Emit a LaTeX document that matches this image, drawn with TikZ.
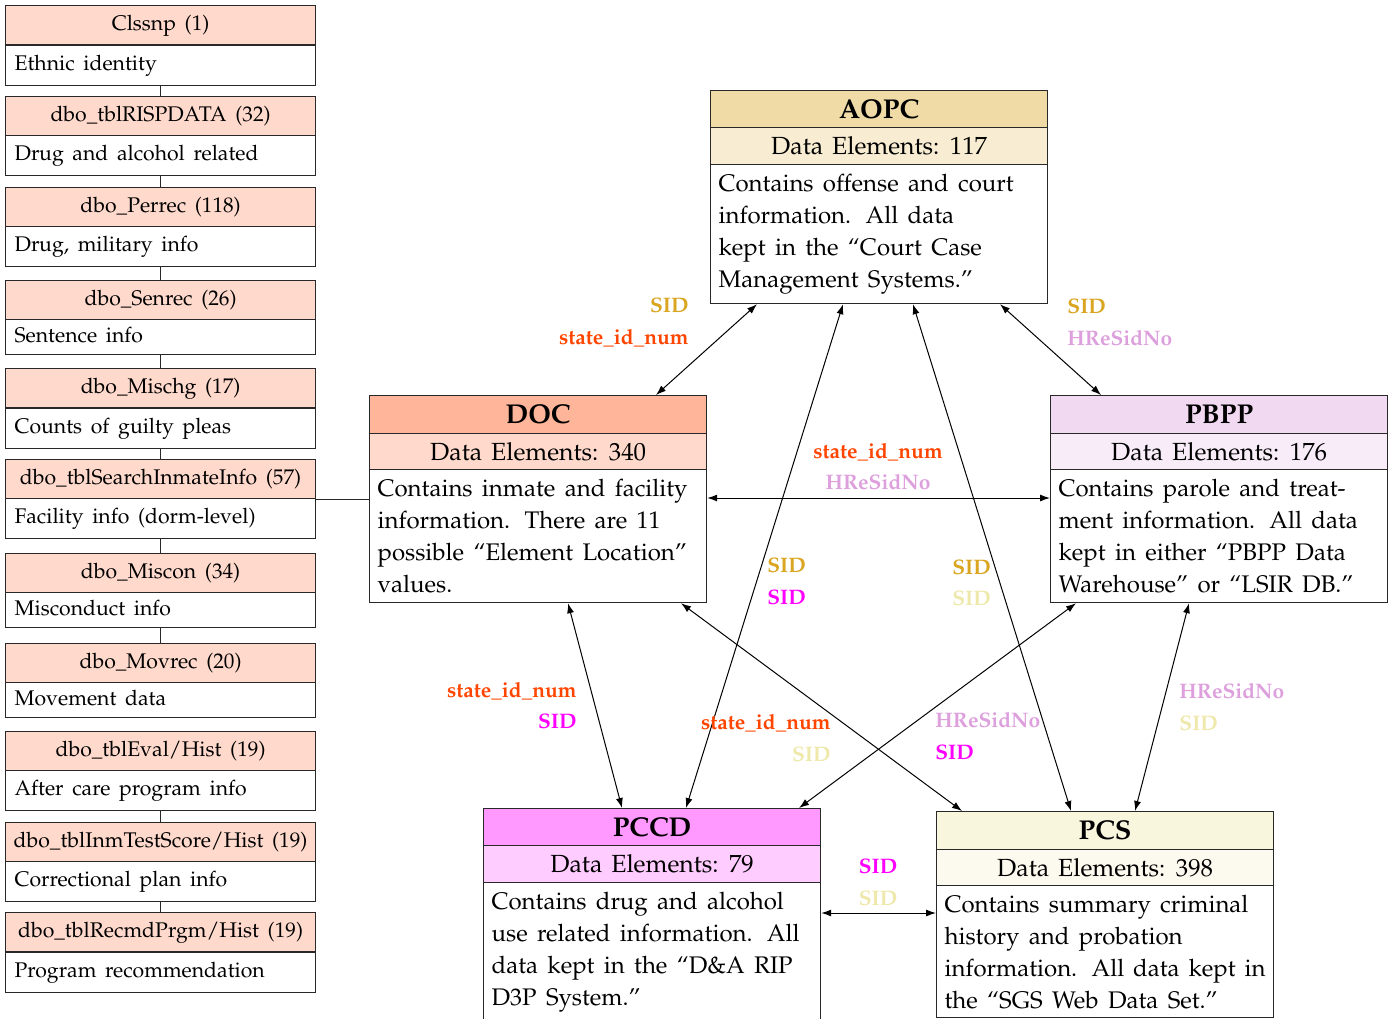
\documentclass[tikz,border=0pt]{standalone}
\usepackage[T1]{fontenc}
\usepackage{mathpazo}
\usetikzlibrary{arrows.meta,calc}
\definecolor{cGold}{RGB}{218,165,32}
\definecolor{cOrange}{RGB}{255,69,0}
\definecolor{cPlum}{RGB}{221,160,221}
\definecolor{cMag}{RGB}{255,0,255}
\definecolor{cPale}{RGB}{238,232,170}
\definecolor{cFrame}{RGB}{40,40,40}
\newcommand\myLfont{\fontsize{10.6}{13}\selectfont\spaceskip=0.41em plus 0.12em minus 0.05em\relax}
\newcommand\myBfont{\fontsize{12}{16}\selectfont}
\newcommand\myDfont{\fontsize{12.4}{16}\selectfont\spaceskip=0.36em plus 0.1em minus 0.05em\relax}
\newcommand\myTfont{\bfseries\fontsize{13.6}{16}\selectfont}
\newcommand\myLabfont{\bfseries\fontsize{10.5}{13}\selectfont}
\begin{document}
\begin{tikzpicture}[x=0.5pt,y=-0.5pt,
  lhead/.style={draw=cFrame, line width=0.6pt, fill=cOrange!20, anchor=north west,
    minimum width=155pt, minimum height=19.5pt, inner sep=0pt,
    font=\myLfont, text height=7.5pt, text depth=2.5pt},
  lbody/.style={draw=cFrame, line width=0.6pt, fill=white, anchor=north west,
    minimum width=155pt, minimum height=20pt, inner xsep=4.5pt, inner ysep=0pt,
    text width=146pt, align=left,
    font=\myLfont, text height=7.5pt, text depth=2.5pt,
    execute at begin node={\spaceskip=0.41em plus 0.1em minus 0.05em\xspaceskip=0.55em\relax}},
  lconn/.style={draw=cFrame, line width=0.6pt},
  btitle/.style={draw=cFrame, line width=0.6pt, anchor=north west, minimum width=168.5pt,
    minimum height=18.75pt, inner sep=0pt, font=\myTfont,
    text height=12pt, text depth=2.5pt},
  bde/.style={draw=cFrame, line width=0.6pt, anchor=north west, minimum width=168.5pt,
    minimum height=18.25pt, inner sep=0pt, font=\myDfont,
    text height=11.5pt, text depth=2.5pt},
  bbody/.style={draw=cFrame, line width=0.6pt, fill=white, anchor=north west,
    text width=160.5pt, inner xsep=4pt, inner ysep=0pt, align=left,
    font=\myBfont,
    execute at begin node={\spaceskip=0.39em plus 0.1em minus 0.05em\xspaceskip=0.6em\relax}},
  arr/.style={<->, >={Latex[length=5pt,width=3.5pt]}, line width=0.5pt},
  lab/.style={font=\myLabfont, inner sep=0pt,
    text height=9.5pt, text depth=2.5pt}
]
\useasboundingbox (0,0) rectangle (1390,1018);

% left column
\node[lhead] (h1) at (5,5) {Clssnp (1)};
\node[lbody] (b1) at (5,45) {Ethnic identity};
\node[lhead] (h2) at (5,96) {dbo\_tblRISPDATA (32)};
\node[lbody] (b2) at (5,135) {Drug and alcohol related};
\node[lhead] (h3) at (5,187) {dbo\_Perrec (118)};
\node[lbody] (b3) at (5,226) {Drug, military info};
\node[lhead] (h4) at (5,280) {dbo\_Senrec (26)};
\node[lbody, minimum height=17.5pt] (b4) at (5,319) {Sentence info};
\node[lhead] (h5) at (5,368) {dbo\_Mischg (17)};
\node[lbody] (b5) at (5,408) {Counts of guilty pleas};
\node[lhead] (h6) at (5,459) {dbo\_tblSearchInmateInfo (57)};
\node[lbody] (b6) at (5,498) {Facility info (dorm-level)};
\node[lhead] (h7) at (5,553) {dbo\_Miscon (34)};
\node[lbody, minimum height=17.5pt] (b7) at (5,592) {Misconduct info};
\node[lhead] (h8) at (5,643) {dbo\_Movrec (20)};
\node[lbody, minimum height=17.5pt] (b8) at (5,682) {Movement data};
\node[lhead] (h9) at (5,731) {dbo\_tblEval/Hist (19)};
\node[lbody] (b9) at (5,770) {After care program info};
\node[lhead] (h10) at (5,822) {dbo\_tblInmTestScore/Hist (19)};
\node[lbody] (b10) at (5,861) {Correctional plan info};
\node[lhead] (h11) at (5,912) {dbo\_tblRecmdPrgm/Hist (19)};
\node[lbody] (b11) at (5,952) {Program recommendation};

\draw[lconn] (b1.south) -- (h2.north);
\draw[lconn] (b2.south) -- (h3.north);
\draw[lconn] (b3.south) -- (h4.north);
\draw[lconn] (b4.south) -- (h5.north);
\draw[lconn] (b5.south) -- (h6.north);
\draw[lconn] (b6.south) -- (h7.north);
\draw[lconn] (b7.south) -- (h8.north);
\draw[lconn] (b9.south) -- (h10.north);
\draw[lconn] (b10.south) -- (h11.north);

% AOPC
\node[btitle, fill=cGold!40] (aopct) at (710,90) {AOPC};
\node[bde, fill=cGold!20] (aopcd) at (710,127) {Data Elements: 117};
\node[bbody, minimum height=69.5pt] (aopc) at (710,164) {Contains offense and court\\information. All data\\kept in the ``Court Case\\Management Systems.''};

% DOC
\node[btitle, fill=cOrange!40] (doct) at (369,395) {DOC};
\node[bde, fill=cOrange!20] (docd) at (369,433) {Data Elements: 340};
\node[bbody, minimum height=66.5pt] (docb) at (369,469) {Contains inmate and facility\\information. There are 11\\possible ``Element Location''\\values.};

% PBPP
\node[btitle, fill=cPlum!40] (pbppt) at (1050,395) {PBPP};
\node[bde, fill=cPlum!20] (pbppd) at (1050,433) {Data Elements: 176};
\node[bbody, minimum height=66.5pt] (pbppb) at (1050,469) {Contains parole and treat-\\ment information. All data\\kept in either ``PBPP Data\\Warehouse'' or ``LSIR DB.''};

% PCCD
\node[btitle, fill=cMag!40] (pccdt) at (483,808) {PCCD};
\node[bde, fill=cMag!20] (pccdd) at (483,845) {Data Elements: 79};
\node[bbody, minimum height=70pt] (pccdb) at (483,882) {Contains drug and alcohol\\use related information. All\\data kept in the ``D\&A RIP\\D3P System.''};

% PCS
\node[btitle, fill=cPale!40] (pcst) at (936,811) {PCS};
\node[bde, fill=cPale!20] (pcsd) at (936,849) {Data Elements: 398};
\node[bbody, minimum height=66pt] (pcsb) at (936,885) {Contains summary criminal\\history and probation\\information. All data kept in\\the ``SGS Web Data Set.''};

% link from left column
\draw[lconn] (h6.south east) -- (h6.south east -| docb.west);

% connectors
\draw[arr] ($(aopc.south west)+(47,0)$) -- ($(doct.north west)+(287,0)$);
\draw[arr] ($(aopc.south west)+(133,0)$) -- ($(pccdt.north west)+(203,0)$);
\draw[arr] ($(aopc.south west)+(203,0)$) -- ($(pcst.north west)+(135,0)$);
\draw[arr] ($(aopc.south west)+(290,0)$) -- ($(pbppt.north west)+(51,0)$);
\draw[arr] ($(docb.north east)+(0,29)$) -- ($(pbppb.north west)+(0,29)$);
\draw[arr] ($(docb.south west)+(199,0)$) -- ($(pccdt.north west)+(139,0)$);
\draw[arr] ($(docb.south west)+(312,0)$) -- ($(pcst.north west)+(26,0)$);
\draw[arr] ($(pbppb.south west)+(26,0)$) -- ($(pccdt.north west)+(316,0)$);
\draw[arr] ($(pbppb.south west)+(139,0)$) -- ($(pcst.north west)+(199,0)$);
\draw[arr] ($(pccdb.north east)+(0,31)$) -- ($(pcsb.north west)+(0,28)$);

% labels
\node[lab, text=cGold, anchor=east] (l1) at (689,305) {SID};
\node[lab, text=cOrange, anchor=east] (l2) at (689,337) {state\_id\_num};
\node[lab, text=cGold, anchor=west] (l3) at (1067,306) {SID};
\node[lab, text=cPlum, anchor=west] (l4) at (1067,338) {HReSidNo};
\node[lab, text=cOrange] (l5) at (878,451) {state\_id\_num};
\node[lab, text=cPlum] (l6) at (878,482) {HReSidNo};
\node[lab, text=cGold, anchor=west] (l7) at (767,565) {SID};
\node[lab, text=cMag, anchor=west] (l8) at (767,597) {SID};
\node[lab, text=cGold, anchor=west] (l9) at (952,567) {SID};
\node[lab, text=cPale, anchor=west] (l10) at (952,598) {SID};
\node[lab, text=cOrange, anchor=east] (l11) at (577,690) {state\_id\_num};
\node[lab, text=cMag, anchor=east] (l12) at (577,721) {SID};
\node[lab, text=cOrange, anchor=east] (l13) at (831,722) {state\_id\_num};
\node[lab, text=cPale, anchor=east] (l14) at (831,754) {SID};
\node[lab, text=cPlum, anchor=west] (l15) at (935,720) {HReSidNo};
\node[lab, text=cMag, anchor=west] (l16) at (935,752) {SID};
\node[lab, text=cPlum, anchor=west] (l17) at (1179,691) {HReSidNo};
\node[lab, text=cPale, anchor=west] (l18) at (1179,723) {SID};
\node[lab, text=cMag] (l19) at (878,866) {SID};
\node[lab, text=cPale] (l20) at (878,898) {SID};
\end{tikzpicture}
\end{document}
